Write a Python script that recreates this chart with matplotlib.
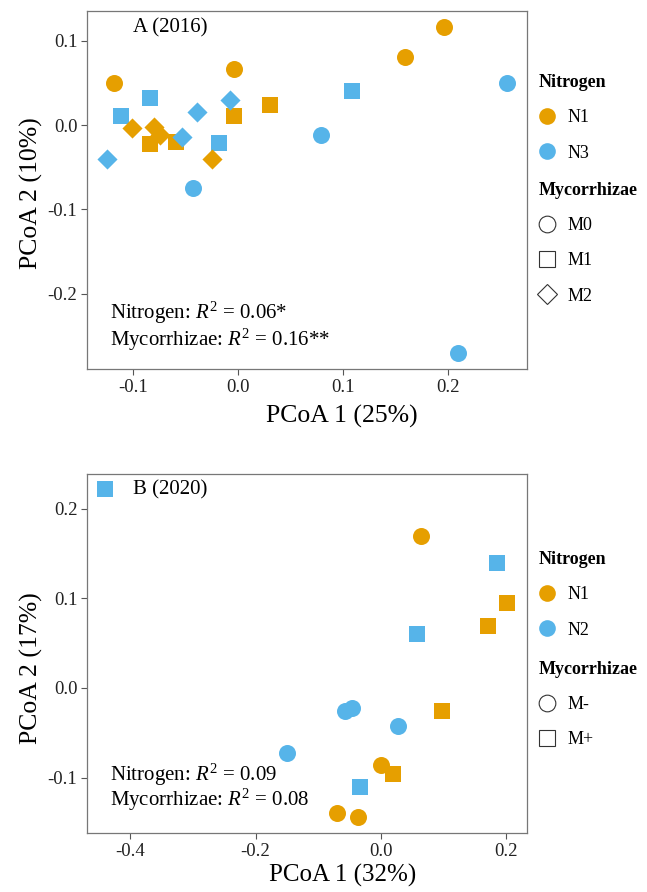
import numpy as np
import matplotlib.pyplot as plt
from matplotlib.lines import Line2D

plt.rcParams['font.family'] = ['Liberation Serif', 'DejaVu Serif']
plt.rcParams['mathtext.fontset'] = 'custom'
plt.rcParams['mathtext.rm'] = 'Liberation Serif'
plt.rcParams['mathtext.it'] = 'Liberation Serif:italic'
plt.rcParams['mathtext.bf'] = 'Liberation Serif:bold'

orange = '#E69F00'
blue = '#56B4E9'

# panel A, 2016
pc1_2016 = [-0.118, -0.004, 0.159, 0.196,
            0.256, 0.079, -0.043, 0.209,
            -0.084, -0.059, -0.004, 0.030,
            -0.111, -0.084, -0.018, 0.108,
            -0.101, -0.080, -0.074, -0.025,
            -0.125, -0.053, -0.039, -0.008]
pc2_2016 = [0.050, 0.066, 0.080, 0.116,
            0.050, -0.012, -0.075, -0.270,
            -0.022, -0.020, 0.011, 0.024,
            0.011, 0.032, -0.021, 0.040,
            -0.004, -0.002, -0.012, -0.040,
            -0.040, -0.014, 0.015, 0.030]
nitro_2016 = ['N1'] * 4 + ['N3'] * 4 + ['N1'] * 4 + ['N3'] * 4 + ['N1'] * 4 + ['N3'] * 4
myco_2016 = ['M0'] * 8 + ['M1'] * 8 + ['M2'] * 8

# panel B, 2020
pc1_2020 = [0.064, -0.070, -0.037, 0.000,
            -0.057, -0.046, 0.027, -0.150,
            0.201, 0.171, 0.097, 0.019,
            0.185, 0.057, -0.033, -0.440]
pc2_2020 = [0.170, -0.140, -0.144, -0.086,
            -0.026, -0.022, -0.042, -0.073,
            0.095, 0.069, -0.026, -0.096,
            0.140, 0.060, -0.111, 0.222]
nitro_2020 = ['N1'] * 4 + ['N2'] * 4 + ['N1'] * 4 + ['N2'] * 4
myco_2020 = ['M-'] * 8 + ['M+'] * 8

colors_2016 = {'N1': orange, 'N3': blue}
colors_2020 = {'N1': orange, 'N2': blue}
shapes_2016 = {'M0': 'o', 'M1': 's', 'M2': 'D'}
shapes_2020 = {'M-': 'o', 'M+': 's'}
sizes = {'o': 150, 's': 120, 'D': 105}

fig = plt.figure(figsize=(6.47, 8.92), dpi=100)
axA = fig.add_axes([0.1345, 0.5863, 0.680, 0.4013])
axB = fig.add_axes([0.1345, 0.0661, 0.680, 0.4025])


def draw(ax, x, y, nitro, myco, cols, shapes):
    x = np.array(x)
    y = np.array(y)
    nitro = np.array(nitro)
    myco = np.array(myco)
    for m, mk in shapes.items():
        for n, c in cols.items():
            sel = (nitro == n) & (myco == m)
            ax.scatter(x[sel], y[sel], s=sizes[mk], marker=mk, color=c,
                       linewidths=0, zorder=3)


def style(ax):
    for sp in ax.spines.values():
        sp.set_color('#777777')
        sp.set_linewidth(0.9)
    ax.tick_params(direction='out', length=4, width=0.8, color='#555555',
                   labelsize=13.5, labelcolor='#222222', pad=3)


draw(axA, pc1_2016, pc2_2016, nitro_2016, myco_2016, colors_2016, shapes_2016)
axA.set_xlim(-0.1438, 0.275)
axA.set_ylim(-0.289, 0.135)
axA.set_xticks([-0.1, 0.0, 0.1, 0.2])
axA.set_xticklabels(['-0.1', '0.0', '0.1', '0.2'])
axA.set_yticks([-0.2, -0.1, 0.0, 0.1])
axA.set_yticklabels(['-0.2', '-0.1', '0.0', '0.1'])
style(axA)
axA.set_xlabel('PCoA 1 (25%)', fontsize=18.5)
axA.set_ylabel('PCoA 2 (10%)', fontsize=18.5)
axA.xaxis.set_label_coords(0.58, -0.1)
axA.yaxis.set_label_coords(-0.10, 0.49)
axA.text(0.105, 0.952, 'A (2016)', transform=axA.transAxes, fontsize=15,
         va='center', ha='left')
axA.text(0.052, 0.156, 'Nitrogen: $R^2$ = 0.06*', transform=axA.transAxes,
         fontsize=15, va='center', ha='left')
axA.text(0.052, 0.081, 'Mycorrhizae: $R^2$ = 0.16**', transform=axA.transAxes,
         fontsize=15, va='center', ha='left')

draw(axB, pc1_2020, pc2_2020, nitro_2020, myco_2020, colors_2020, shapes_2020)
axB.set_xlim(-0.469, 0.233)
axB.set_ylim(-0.162, 0.239)
axB.set_xticks([-0.4, -0.2, 0.0, 0.2])
axB.set_xticklabels(['-0.4', '-0.2', '0.0', '0.2'])
axB.set_yticks([-0.1, 0.0, 0.1, 0.2])
axB.set_yticklabels(['-0.1', '0.0', '0.1', '0.2'])
style(axB)
axB.set_xlabel('PCoA 1 (32%)', fontsize=18)
axB.set_ylabel('PCoA 2 (17%)', fontsize=18.5)
axB.xaxis.set_label_coords(0.58, -0.086)
axB.yaxis.set_label_coords(-0.10, 0.46)
axB.text(0.105, 0.955, 'B (2020)', transform=axB.transAxes, fontsize=15,
         va='center', ha='left')
axB.text(0.052, 0.162, 'Nitrogen: $R^2$ = 0.09', transform=axB.transAxes,
         fontsize=15, va='center', ha='left')
axB.text(0.052, 0.092, 'Mycorrhizae: $R^2$ = 0.08', transform=axB.transAxes,
         fontsize=15, va='center', ha='left')


def add_legend(title, labels, handles, top):
    leg = fig.legend(handles, labels, title=title, loc='upper left',
                     bbox_to_anchor=(0.832, top), frameon=False, fontsize=13,
                     title_fontproperties={'weight': 'bold', 'size': 13},
                     handlelength=1.0, handletextpad=0.6, labelspacing=1.01,
                     borderpad=0, borderaxespad=0, alignment='left')
    return leg


def filled(c):
    return Line2D([], [], marker='o', color=c, linestyle='', markersize=12,
                  markeredgewidth=0)


def hollow(mk, ms):
    return Line2D([], [], marker=mk, linestyle='', markersize=ms,
                  markerfacecolor='white', markeredgecolor='#333333',
                  markeredgewidth=0.8)


add_legend('Nitrogen', ['N1', 'N3'], [filled(orange), filled(blue)], 0.917)
add_legend('Mycorrhizae', ['M0', 'M1', 'M2'],
           [hollow('o', 12), hollow('s', 11), hollow('D', 10.5)], 0.796)
add_legend('Nitrogen', ['N1', 'N2'], [filled(orange), filled(blue)], 0.382)
add_legend('Mycorrhizae', ['M-', 'M+'],
           [hollow('o', 12), hollow('s', 11)], 0.259)

fig.savefig('out.png', dpi=100)
